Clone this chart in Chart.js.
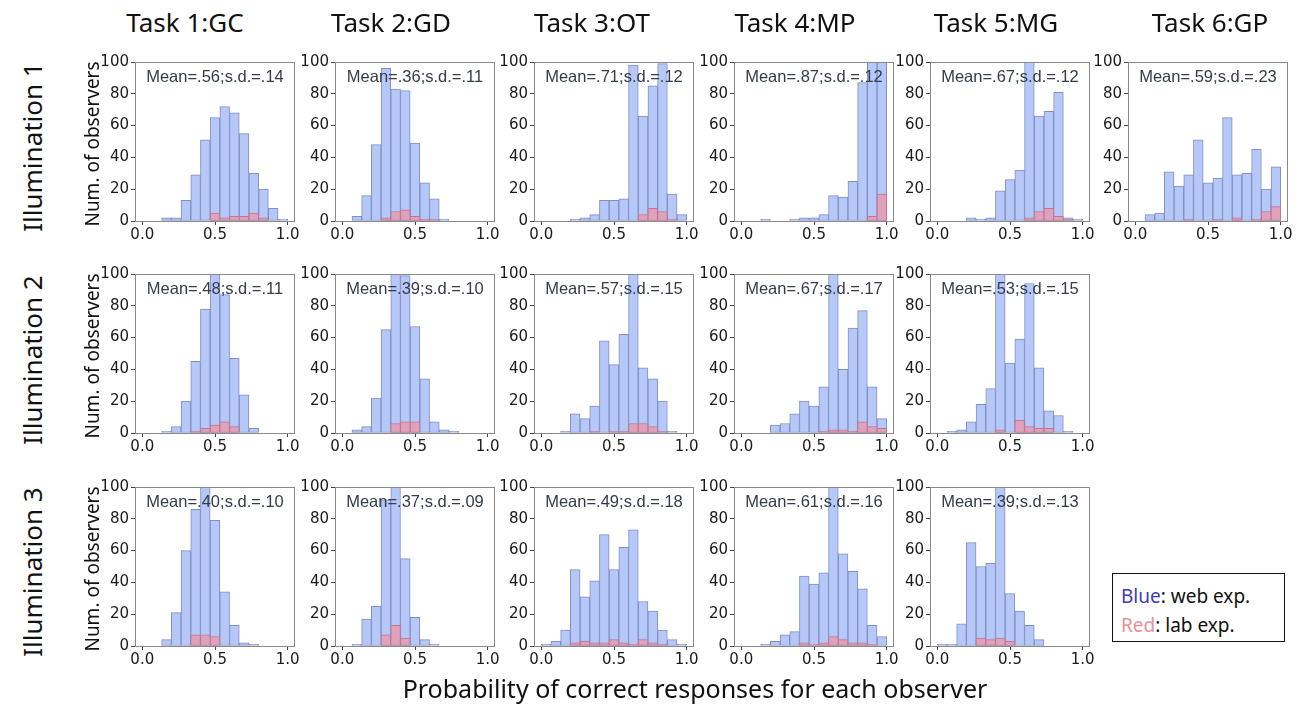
<!DOCTYPE html>
<html>
<head>
<meta charset="utf-8">
<script src="https://cdn.jsdelivr.net/npm/chart.js@4.4.0/dist/chart.umd.min.js"></script>
<style>
  body { margin: 0; background: #fff; width: 1299px; height: 704px; position: relative; overflow: hidden; font-family: "Noto Sans", sans-serif; color: #111; }
  canvas { position: absolute; }
  .lbl { position: absolute; white-space: nowrap; line-height: 1; }
  .col { font-size: 26px; transform: translate(-50%, -50%); }
  .row { font-size: 26px; transform: translate(-50%, -50%) rotate(-90deg); }
  .ylab { font-size: 19px; transform: translate(-50%, -50%) rotate(-90deg); }
  .xlab { font-size: 25px; transform: translate(-50%, -50%); }
  #legend { position: absolute; left: 1112px; top: 573px; width: 171px; height: 67px; border: 1px solid #111; font-size: 19px; }
  #legend div { position: absolute; left: 8px; white-space: nowrap; }
</style>
</head>
<body>
<div id="legend">
  <div style="top:9px"><span style="color:#3c3cb4">Blue</span>: web exp.</div>
  <div style="top:38px"><span style="color:#e8909c">Red</span>: lab exp.</div>
</div>
<script>
// histogram bins: 15 bins between 0 and 1
const binCenters = [1/30, 3/30, 5/30, 7/30, 9/30, 11/30, 13/30, 15/30, 17/30, 19/30, 21/30, 23/30, 25/30, 27/30, 29/30];
const xTicks = [0, 0.5, 1];
const yTicks = [0, 20, 40, 60, 80, 100];
const taskNames = ['Task 1:GC', 'Task 2:GD', 'Task 3:OT', 'Task 4:MP', 'Task 5:MG', 'Task 6:GP'];
const illumNames = ['Illumination 1', 'Illumination 2', 'Illumination 3'];

// Illumination 1
const web_GC_1 = [0, 0, 2, 2, 13, 29, 51, 65, 72, 68, 55, 30, 20, 8, 1];
const lab_GC_1 = [0, 0, 0, 0, 0, 0, 0, 5, 2, 3, 3, 5, 2, 0, 0];
const web_GD_1 = [0, 3, 16, 48, 96, 83, 82, 49, 24, 14, 1, 0, 0, 0, 0];
const lab_GD_1 = [0, 0, 0, 0, 2, 6, 7, 3, 1, 1, 0, 0, 0, 0, 0];
const web_OT_1 = [0, 0, 0, 1, 2, 4, 13, 13, 14, 98, 66, 85, 99, 17, 4];
const lab_OT_1 = [0, 0, 0, 0, 0, 0, 0, 0, 0, 0, 4, 8, 6, 1, 0];
const web_MP_1 = [0, 0, 1, 0, 0, 1, 2, 2, 4, 16, 15, 25, 87, 120, 143];
const lab_MP_1 = [0, 0, 0, 0, 0, 0, 0, 0, 0, 0, 0, 0, 0, 3, 17];
const web_MG_1 = [0, 0, 0, 2, 1, 2, 19, 26, 32, 115, 66, 69, 81, 2, 1];
const lab_MG_1 = [0, 0, 0, 0, 0, 0, 0, 0, 0, 2, 6, 8, 3, 1, 0];
const web_GP_1 = [0, 4, 5, 31, 22, 29, 51, 24, 27, 65, 29, 30, 45, 20, 34];
const lab_GP_1 = [0, 0, 0, 0, 0, 1, 0, 0, 1, 0, 2, 0, 1, 6, 9];

// Illumination 2
const web_GC_2 = [0, 0, 1, 4, 20, 45, 78, 110, 87, 47, 24, 3, 0, 0, 0];
const lab_GC_2 = [0, 0, 0, 0, 0, 1, 3, 5, 7, 4, 0, 0, 0, 0, 0];
const web_GD_2 = [0, 2, 4, 22, 65, 110, 99, 67, 34, 7, 2, 1, 0, 0, 0];
const lab_GD_2 = [0, 0, 0, 0, 0, 6, 7, 7, 0, 0, 0, 0, 0, 0, 0];
const web_OT_2 = [0, 0, 1, 12, 9, 17, 58, 43, 62, 110, 41, 34, 20, 1, 0];
const lab_OT_2 = [0, 0, 0, 0, 0, 1, 0, 1, 1, 6, 6, 4, 1, 0, 0];
const web_MP_2 = [0, 0, 0, 5, 6, 12, 20, 17, 29, 110, 40, 66, 77, 29, 9];
const lab_MP_2 = [0, 0, 0, 0, 0, 0, 0, 0, 1, 2, 2, 1, 7, 4, 3];
const web_MG_2 = [0, 1, 2, 7, 18, 28, 102, 44, 59, 94, 41, 14, 11, 1, 0];
const lab_MG_2 = [0, 0, 0, 0, 0, 0, 2, 0, 8, 4, 3, 3, 0, 0, 0];

// Illumination 3
const web_GC_3 = [0, 0, 4, 21, 60, 86, 110, 79, 34, 13, 2, 1, 0, 0, 0];
const lab_GC_3 = [0, 0, 0, 0, 0, 7, 7, 6, 0, 0, 0, 0, 0, 0, 0];
const web_GD_3 = [0, 1, 17, 25, 92, 120, 55, 18, 4, 1, 0, 0, 0, 0, 0];
const lab_GD_3 = [0, 0, 0, 0, 7, 13, 5, 0, 0, 0, 0, 0, 0, 0, 0];
const web_OT_3 = [1, 3, 10, 48, 31, 41, 70, 48, 62, 73, 28, 22, 10, 4, 1];
const lab_OT_3 = [0, 0, 0, 2, 3, 2, 2, 4, 2, 1, 4, 2, 1, 0, 0];
const web_MP_3 = [0, 0, 1, 3, 7, 9, 44, 39, 46, 110, 58, 47, 36, 13, 6];
const lab_MP_3 = [0, 0, 0, 0, 0, 0, 2, 1, 2, 6, 4, 2, 2, 1, 0];
const web_MG_3 = [1, 1, 14, 65, 50, 52, 110, 33, 22, 13, 4, 0, 0, 0, 0];
const lab_MG_3 = [0, 0, 0, 0, 5, 4, 5, 3, 0, 0, 0, 0, 0, 0, 0];

const stats_1 = ['Mean=.56;s.d.=.14', 'Mean=.36;s.d.=.11', 'Mean=.71;s.d.=.12', 'Mean=.87;s.d.=.12', 'Mean=.67;s.d.=.12', 'Mean=.59;s.d.=.23'];
const stats_2 = ['Mean=.48;s.d.=.11', 'Mean=.39;s.d.=.10', 'Mean=.57;s.d.=.15', 'Mean=.67;s.d.=.17', 'Mean=.53;s.d.=.15'];
const stats_3 = ['Mean=.40;s.d.=.10', 'Mean=.37;s.d.=.09', 'Mean=.49;s.d.=.18', 'Mean=.61;s.d.=.16', 'Mean=.39;s.d.=.13'];

const webRows = [
  [web_GC_1, web_GD_1, web_OT_1, web_MP_1, web_MG_1, web_GP_1],
  [web_GC_2, web_GD_2, web_OT_2, web_MP_2, web_MG_2],
  [web_GC_3, web_GD_3, web_OT_3, web_MP_3, web_MG_3]
];
const labRows = [
  [lab_GC_1, lab_GD_1, lab_OT_1, lab_MP_1, lab_MG_1, lab_GP_1],
  [lab_GC_2, lab_GD_2, lab_OT_2, lab_MP_2, lab_MG_2],
  [lab_GC_3, lab_GD_3, lab_OT_3, lab_MP_3, lab_MG_3]
];
const statRows = [stats_1, stats_2, stats_3];

// layout
const colLeft = [135, 335, 534, 734, 930, 1128];
const rowTop = [62, 274, 487];
const plotW = 160, plotH = 159;
const padTop = 12, padRight = 14, yAxisW = 46, xAxisH = 28;
const titleX = [185, 391, 592, 795, 996, 1210];
const rowLabelY = [147, 360, 572];

const blueFill = 'rgb(182, 200, 248)';
const blueEdge = 'rgb(128, 142, 196)';
const redFill = 'rgb(224, 162, 186)';
const redEdge = 'rgb(192, 118, 146)';

// frame on all four sides + the mean/sd text
const panelDecor = {
  id: 'panelDecor',
  afterDatasetsDraw(chart, args, opts) {
    const { ctx, chartArea: a } = chart;
    ctx.save();
    ctx.strokeStyle = '#8a8a8a';
    ctx.lineWidth = 1;
    ctx.strokeRect(Math.round(a.left) + 0.5, Math.round(a.top) + 0.5, Math.round(a.width) - 1, Math.round(a.height));
    ctx.fillStyle = '#333c4a';
    ctx.font = '16.5px "Liberation Sans", Arial, sans-serif';
    ctx.textAlign = 'center';
    ctx.textBaseline = 'middle';
    ctx.fillText(opts.text, (a.left + a.right) / 2, a.top + 15);
    ctx.restore();
  }
};

function label(cls, text, x, y) {
  const d = document.createElement('div');
  d.className = 'lbl ' + cls;
  d.textContent = text;
  d.style.left = x + 'px';
  d.style.top = y + 'px';
  document.body.appendChild(d);
}

function makePanel(r, c) {
  const cv = document.createElement('canvas');
  cv.width = yAxisW + plotW + padRight;
  cv.height = padTop + plotH + xAxisH;
  cv.style.left = (colLeft[c] - yAxisW) + 'px';
  cv.style.top = (rowTop[r] - padTop) + 'px';
  document.body.appendChild(cv);

  const web = webRows[r][c], lab = labRows[r][c];
  const tickFont = { family: '"DejaVu Sans", sans-serif', size: 15 };

  new Chart(cv, {
    type: 'bar',
    data: {
      datasets: [
        { label: 'web', data: binCenters.map((x, i) => ({ x, y: web[i] })), backgroundColor: blueFill, borderColor: blueEdge, borderWidth: 1, order: 2 },
        { label: 'lab', data: binCenters.map((x, i) => ({ x, y: lab[i] })), backgroundColor: redFill, borderColor: redEdge, borderWidth: 1, order: 1 }
      ]
    },
    options: {
      responsive: false,
      animation: false,
      layout: { padding: { top: padTop, right: padRight, left: 0, bottom: 0 } },
      datasets: { bar: { grouped: false, barPercentage: 1, categoryPercentage: 1, borderSkipped: false } },
      plugins: {
        legend: { display: false },
        tooltip: { enabled: false },
        panelDecor: { text: statRows[r][c] }
      },
      scales: {
        x: {
          type: 'linear', min: -0.05, max: 1.05, offset: false,
          afterBuildTicks: ax => { ax.ticks = xTicks.map(v => ({ value: v })); },
          afterFit: ax => { ax.height = xAxisH; },
          grid: { offset: false, drawOnChartArea: false, drawTicks: true, tickLength: 4, color: '#444' },
          border: { display: false },
          ticks: { callback: v => v.toFixed(1), font: tickFont, color: '#1a1a1a', padding: 1, maxRotation: 0 }
        },
        y: {
          min: 0, max: 100,
          afterBuildTicks: ax => { ax.ticks = yTicks.map(v => ({ value: v })); },
          afterFit: ax => { ax.width = yAxisW; },
          grid: { drawOnChartArea: false, drawTicks: true, tickLength: 4, color: '#444' },
          border: { display: false },
          ticks: { font: tickFont, color: '#1a1a1a', padding: 2 }
        }
      }
    },
    plugins: [panelDecor]
  });
}

webRows.forEach((row, r) => row.forEach((_, c) => makePanel(r, c)));

taskNames.forEach((t, c) => label('col', t, titleX[c], 22));
illumNames.forEach((t, r) => {
  label('row', t, 32, rowLabelY[r]);
  label('ylab', 'Num. of observers', 92, rowTop[r] + 82);
});
label('xlab', 'Probability of correct responses for each observer', 695, 688);
</script>
</body>
</html>
